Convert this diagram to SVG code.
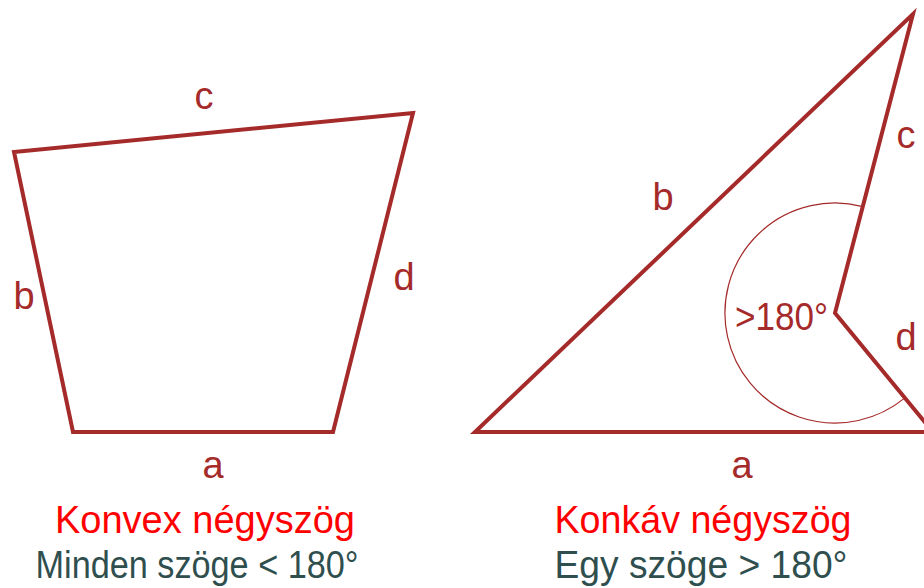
<svg xmlns="http://www.w3.org/2000/svg" width="924" height="588" viewBox="0 0 924 588">
<style>
.edge{fill:none;stroke:#a52a2a;stroke-width:4;stroke-linejoin:miter}
.arc{fill:none;stroke:#a52a2a;stroke-width:1.2}
.lbl{font-family:"Liberation Sans",Arial,sans-serif;font-size:38px;fill:#a52a2a;text-anchor:middle}
.title{font-family:"Liberation Sans",Arial,sans-serif;font-size:38px;fill:#ff0000;text-anchor:middle}
.sub{font-family:"Liberation Sans",Arial,sans-serif;font-size:38px;fill:#2f4f4f;text-anchor:middle}
</style>
<rect width="924" height="588" fill="#ffffff"/>
<g id="convex">
<polygon class="edge" points="73,432 333,432 413,113 14,152"/>
<text class="lbl" x="213" y="478">a</text>
<text class="lbl" x="24" y="309">b</text>
<text class="lbl" x="204" y="109">c</text>
<text class="lbl" x="404" y="290">d</text>
<text class="title" x="205" y="533" textLength="300" lengthAdjust="spacingAndGlyphs">Konvex négyszög</text>
<text class="sub" x="197" y="578" textLength="323" lengthAdjust="spacingAndGlyphs">Minden szöge &lt; 180°</text>
</g>
<g id="concave">
<path class="edge" d="M 933 432 L 475 432 L 913 14 L 835 313 L 933 432"/>
<path class="arc" d="M 862.8 206.6 A 110 110 0 1 0 904.9 397.9"/>
<text class="lbl" x="742" y="478">a</text>
<text class="lbl" x="663" y="210">b</text>
<text class="lbl" x="906" y="148">c</text>
<text class="lbl" x="906" y="350">d</text>
<text class="lbl" x="735" y="330" style="text-anchor:start" textLength="93" lengthAdjust="spacingAndGlyphs">&gt;180°</text>
<text class="title" x="703" y="533" textLength="297" lengthAdjust="spacingAndGlyphs">Konkáv négyszög</text>
<text class="sub" x="701" y="578" textLength="293" lengthAdjust="spacingAndGlyphs">Egy szöge &gt; 180°</text>
</g>
</svg>
